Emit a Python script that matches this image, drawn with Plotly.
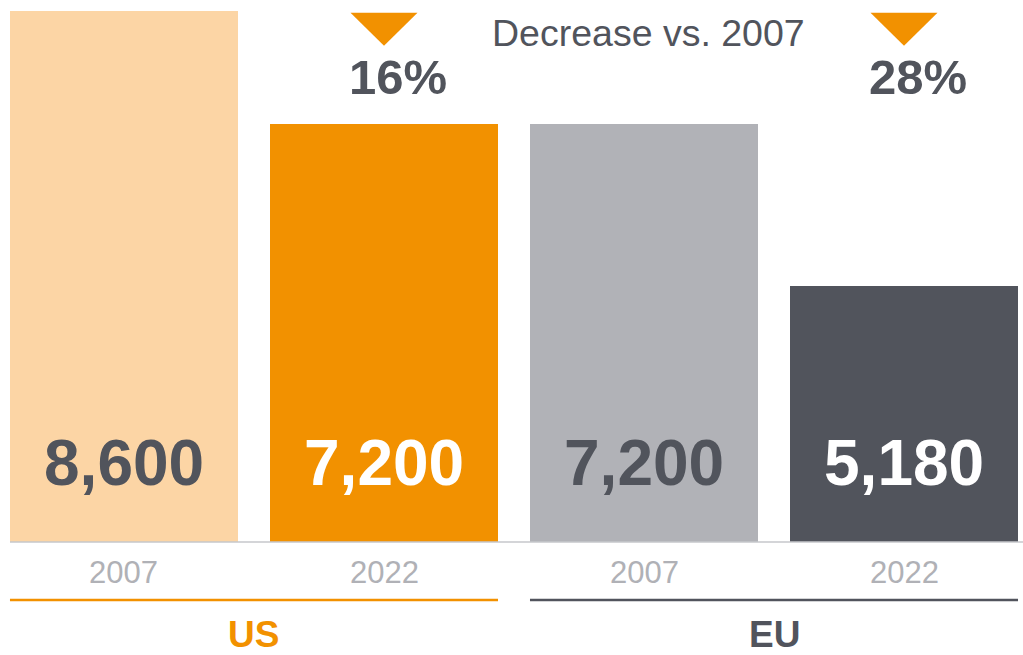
import plotly.graph_objects as go

# Data
regions = ["US", "US", "EU", "EU"]
years = ["2007", "2022", "2007", "2022"]
values = [8600, 7200, 7200, 5180]
bar_colors = ["#fcd5a5", "#f29100", "#b1b2b7", "#51545c"]
label_colors = ["#51545c", "#ffffff", "#51545c", "#ffffff"]
group_names = ["US", "EU"]
group_colors = ["#f29100", "#51545c"]
title_text = "Decrease vs. 2007"

DARK = "#51545c"
FONT = "Liberation Sans, Arial, Helvetica, sans-serif"

W, H = 1023, 655
PLOT_H = 542                      # plot area height in px (margin bottom = H - PLOT_H)
BAR_W = 0.877                     # bar width as a fraction of a category slot
X_RANGE = [-0.4769, 3.4577]
Y_RANGE = [2000, 8737]


def py(pixel):
    """Convert a pixel row (from the top of the page) into paper y."""
    return (PLOT_H - pixel) / PLOT_H


xs = list(range(len(values)))

fig = go.Figure()
fig.add_trace(go.Bar(
    x=xs, y=values, width=BAR_W,
    marker=dict(color=bar_colors, line=dict(width=0)),
    hoverinfo="skip", showlegend=False,
))

annotations = []
shapes = []

# value labels near the bottom of each bar
for x, v, c in zip(xs, values, label_colors):
    annotations.append(dict(
        x=x, y=py(463), xref="x", yref="paper", text=f"{v:,}",
        showarrow=False, xanchor="center", yanchor="middle",
        font=dict(family=FONT, size=64, color=c, weight="bold"),
    ))

# year labels below the baseline
for x, yr in zip(xs, years):
    annotations.append(dict(
        x=x, y=py(572), xref="x", yref="paper", text=yr,
        showarrow=False, xanchor="center", yanchor="middle",
        font=dict(family=FONT, size=31, color="#b0b1b6"),
    ))

# baseline
shapes.append(dict(
    type="line", xref="x", yref="paper",
    x0=xs[0] - BAR_W / 2, x1=X_RANGE[1], y0=0, y1=0,
    line=dict(color="#c6c7cb", width=1.5),
))

# region brackets and labels, plus decrease indicators on the 2022 bars
for g, (name, col) in enumerate(zip(group_names, group_colors)):
    i0, i1 = 2 * g, 2 * g + 1
    shapes.append(dict(
        type="line", xref="x", yref="paper",
        x0=i0 - BAR_W / 2, x1=i1 + BAR_W / 2, y0=py(600), y1=py(600),
        line=dict(color=col, width=2.5),
    ))
    annotations.append(dict(
        x=(i0 + i1) / 2, y=py(634), xref="x", yref="paper", text=name,
        showarrow=False, xanchor="center", yanchor="middle",
        font=dict(family=FONT, size=37, color=col, weight="bold"),
    ))

    pct = round((values[i0] - values[i1]) / values[i0] * 100)
    annotations.append(dict(
        x=i1, y=py(77), xref="x", yref="paper", text=f"{pct}%",
        showarrow=False, xanchor="center", yanchor="middle", xshift=14,
        font=dict(family=FONT, size=49, color=DARK, weight="bold"),
    ))
    shapes.append(dict(
        type="path", xref="x", yref="paper",
        xsizemode="pixel", ysizemode="pixel",
        xanchor=i1, yanchor=py(12.7),
        path="M-33.5,0 L33.5,0 L0,-33 Z",
        fillcolor="#f29100", line=dict(width=0),
    ))

annotations.append(dict(
    x=648.5 / W, y=py(33), xref="paper", yref="paper", text=title_text,
    showarrow=False, xanchor="center", yanchor="middle",
    font=dict(family=FONT, size=37.5, color=DARK),
))

fig.update_layout(
    width=W, height=H,
    margin=dict(l=0, r=0, t=0, b=H - PLOT_H, pad=0),
    paper_bgcolor="white", plot_bgcolor="white",
    xaxis=dict(range=X_RANGE, visible=False, fixedrange=True),
    yaxis=dict(range=Y_RANGE, visible=False, fixedrange=True),
    bargap=0, annotations=annotations, shapes=shapes,
    hovermode=False,
)

fig.write_html("out.html", config={"displayModeBar": False})
